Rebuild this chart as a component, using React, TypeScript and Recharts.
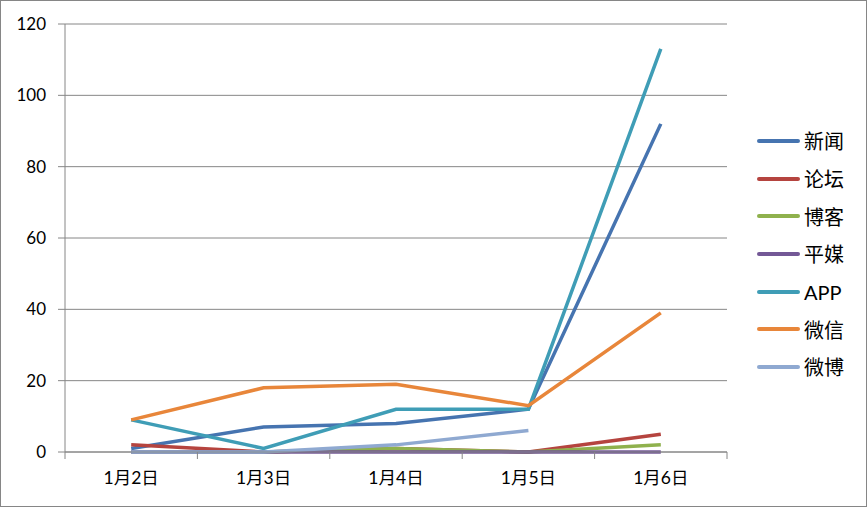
import { LineChart, Line, XAxis, YAxis, CartesianGrid } from "recharts";

const days = ["1月2日", "1月3日", "1月4日", "1月5日", "1月6日"];
const xinwen = [1, 7, 8, 12, 92];
const luntan = [2, 0, 1, 0, 5];
const boke = [0, 0, 1, 0, 2];
const pingmei = [0, 0, 0, 0, 0];
const app = [9, 1, 12, 12, 113];
const weixin = [9, 18, 19, 13, 39];
const weibo = [0, 0, 2, 6, null];
const yTicks = [0, 20, 40, 60, 80, 100, 120];
// boundary ticks (marks) and centre ticks (labels)
const xTicks = [0, 0.5, 1, 1.5, 2, 2.5, 3, 3.5, 4, 4.5, 5];

const series = [
  { key: "新闻", values: xinwen, color: "#4674B0" },
  { key: "论坛", values: luntan, color: "#B5443F" },
  { key: "博客", values: boke, color: "#8FB14D" },
  { key: "平媒", values: pingmei, color: "#735896" },
  { key: "APP", values: app, color: "#3F9DB6" },
  { key: "微信", values: weixin, color: "#E8863A" },
  { key: "微博", values: weibo, color: "#8FA9D1" },
];

const data = days.map((day, i) => {
  const row: any = { day, pos: i + 0.5 };
  series.forEach((s) => {
    row[s.key] = s.values[i];
  });
  return row;
});

const font = "Lato, 'Noto Sans CJK SC', sans-serif";
const gray = "#868686";

function XTick(props: any) {
  const { x, y, payload } = props;
  const v = payload.value;
  if (Number.isInteger(v)) {
    return <line x1={x} x2={x} y1={y} y2={y + 7} stroke={gray} strokeWidth={1} />;
  }
  return (
    <text x={x} y={y + 32} textAnchor="middle" fill="#000" fontSize={17.5} fontFamily={font}>
      {days[Math.floor(v)]}
    </text>
  );
}

function LegendBox() {
  return (
    <div
      style={{
        position: "absolute",
        left: 756,
        top: 121,
        fontFamily: font,
        fontSize: 20,
        color: "#000",
      }}
    >
      {series.map((s) => (
        <div key={s.key} style={{ display: "flex", alignItems: "center", height: 37.7 }}>
          <div style={{ width: 43, height: 4, borderRadius: 2, background: s.color, marginRight: 4 }} />
          <span>{s.key}</span>
        </div>
      ))}
    </div>
  );
}

export default function App() {
  return (
    <div
      style={{
        position: "absolute",
        left: 0,
        top: 0,
        width: 867,
        height: 507,
        border: `1px solid ${gray}`,
        boxSizing: "border-box",
        background: "#fff",
      }}
    >
      <LineChart
        width={865}
        height={505}
        data={data}
        margin={{ top: 23, right: 139, bottom: 16, left: 9 }}
        style={{ fontFamily: font }}
      >
        <CartesianGrid vertical={false} stroke={gray} strokeWidth={1} />
        <XAxis
          dataKey="pos"
          type="number"
          domain={[0, 5]}
          ticks={xTicks}
          interval={0}
          stroke={gray}
          tickLine={false}
          tickSize={0}
          tickMargin={0}
          height={38}
          tick={<XTick />}
        />
        <YAxis
          domain={[0, 120]}
          ticks={yTicks}
          width={55}
          stroke={gray}
          tickSize={7}
          tickMargin={12}
          tick={{ fill: "#000", fontSize: 17 }}
          interval={0}
        />
        {series.map((s) => (
          <Line
            key={s.key}
            dataKey={s.key}
            type="linear"
            stroke={s.color}
            strokeWidth={3.5}
            dot={false}
            activeDot={false}
            isAnimationActive={false}
          />
        ))}
      </LineChart>
      <LegendBox />
    </div>
  );
}
